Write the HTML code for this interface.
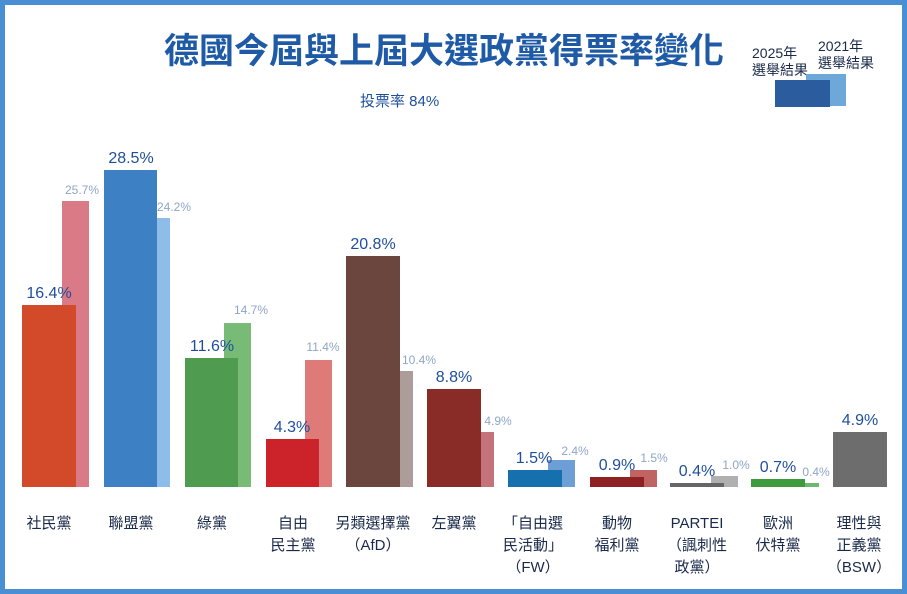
<!DOCTYPE html>
<html><head><meta charset="utf-8"><style>
html,body{margin:0;padding:0;background:#fff}
svg{display:block}
text{font-family:"Liberation Sans","Noto Sans CJK TC",sans-serif}
</style></head><body>
<svg width="907" height="594" xmlns="http://www.w3.org/2000/svg">
<rect x="0" y="0" width="907" height="594" fill="#4a8fd3"/>
<rect x="5" y="5" width="897" height="584" fill="#fff"/>
<text x="444" y="63" text-anchor="middle" font-size="35" font-weight="bold" fill="#1f5aa6" textLength="560" lengthAdjust="spacingAndGlyphs">德國今屆與上屆大選政黨得票率變化</text>
<text x="360" y="106" font-size="15" fill="#1f4f9b">投票率 84%</text>
<text x="818" y="51" font-size="14" fill="#1a2a4a">2021年</text>
<text x="818" y="68" font-size="14" fill="#1a2a4a">選舉結果</text>
<text x="752" y="58" font-size="14" fill="#1a2a4a">2025年</text>
<text x="752" y="75" font-size="14" fill="#1a2a4a">選舉結果</text>
<rect x="806" y="74" width="40" height="32" fill="#6ea8d9"/>
<rect x="775" y="80" width="55" height="27" fill="#2b5c9e"/>
<g font-size="16" fill="#1f4f9b" text-anchor="middle">
<rect x="62" y="201" width="27" height="286" fill="#d97a86"/>
<rect x="22" y="305" width="54" height="182" fill="#d24a2a"/>
<rect x="143" y="218" width="27" height="269" fill="#8dbde8"/>
<rect x="104" y="170" width="53" height="317" fill="#3e80c4"/>
<rect x="224" y="323" width="27" height="164" fill="#78bb76"/>
<rect x="185" y="358" width="53" height="129" fill="#4f9b4f"/>
<rect x="305" y="360" width="27" height="127" fill="#de7b78"/>
<rect x="266" y="439" width="53" height="48" fill="#cc222a"/>
<rect x="386" y="371" width="27" height="116" fill="#ad9d9a"/>
<rect x="346" y="256" width="54" height="231" fill="#6b463f"/>
<rect x="467" y="432" width="27" height="55" fill="#c4737c"/>
<rect x="427" y="389" width="54" height="98" fill="#892b27"/>
<rect x="548" y="460" width="27" height="27" fill="#6d9fd6"/>
<rect x="508" y="470" width="54" height="17" fill="#1570ad"/>
<rect x="630" y="470" width="27" height="17" fill="#c06363"/>
<rect x="590" y="477" width="54" height="10" fill="#8e2222"/>
<rect x="711" y="476" width="27" height="11" fill="#b0b0b0"/>
<rect x="670" y="483" width="54" height="4" fill="#666"/>
<rect x="792" y="483" width="27" height="4" fill="#6cb86c"/>
<rect x="751" y="479" width="54" height="8" fill="#3d9a3d"/>
<rect x="833" y="432" width="54" height="55" fill="#6d6d6d"/>
<text x="49" y="298">16.4%</text>
<text x="131" y="163">28.5%</text>
<text x="212" y="351">11.6%</text>
<text x="292" y="432">4.3%</text>
<text x="373" y="249">20.8%</text>
<text x="454" y="382">8.8%</text>
<text x="534" y="463">1.5%</text>
<text x="617" y="470">0.9%</text>
<text x="697" y="476">0.4%</text>
<text x="778" y="472">0.7%</text>
<text x="860" y="425">4.9%</text>
</g>
<g font-size="12" fill="#8ea6c6" text-anchor="middle">
<text x="82" y="194">25.7%</text>
<text x="174" y="211">24.2%</text>
<text x="251" y="314">14.7%</text>
<text x="323" y="351">11.4%</text>
<text x="419" y="364">10.4%</text>
<text x="498" y="425">4.9%</text>
<text x="575" y="455">2.4%</text>
<text x="654" y="462">1.5%</text>
<text x="736" y="469">1.0%</text>
<text x="816" y="476">0.4%</text>
</g>
<g font-size="15" fill="#1a2a4a" text-anchor="middle">
<text x="49" y="528">社民黨</text>
<text x="131" y="528">聯盟黨</text>
<text x="212" y="528">綠黨</text>
<text x="293" y="528">自由</text><text x="293" y="550">民主黨</text>
<text x="373" y="528">另類選擇黨</text><text x="373" y="550">（AfD）</text>
<text x="533" y="528">「自由選</text><text x="533" y="550">民活動」</text><text x="533" y="572">（FW）</text>
<text x="454" y="528">左翼黨</text>
<text x="617" y="528">動物</text><text x="617" y="550">福利黨</text>
<text x="697" y="528">PARTEI</text><text x="697" y="550">（諷刺性</text><text x="697" y="572">政黨）</text>
<text x="778" y="528">歐洲</text><text x="778" y="550">伏特黨</text>
<text x="859" y="528">理性與</text><text x="859" y="550">正義黨</text><text x="859" y="572">（BSW）</text>
</g>
</svg>
</body></html>
